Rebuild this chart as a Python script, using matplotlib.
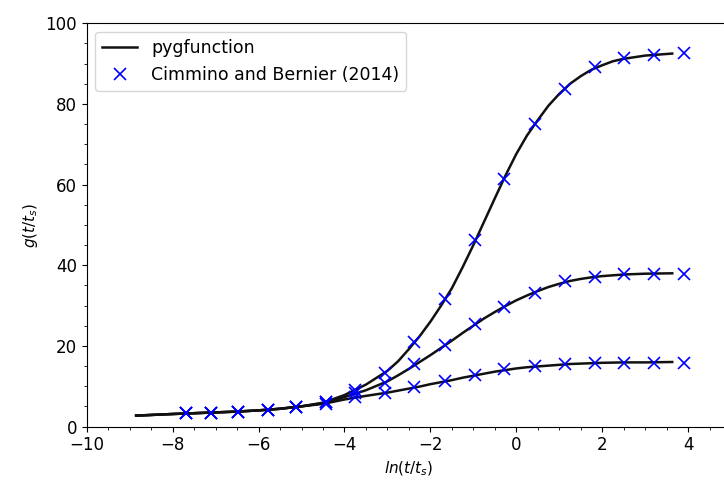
import matplotlib
matplotlib.use("Agg")
import matplotlib.pyplot as plt
from matplotlib.ticker import AutoMinorLocator

# pygfunction curves
lntts_line = [-8.85, -8.0, -7.5, -7.0, -6.5, -6.0, -5.5, -5.0, -4.5, -4.0, -3.5,
              -3.0, -2.75, -2.5, -2.25, -2.0, -1.75, -1.5, -1.25, -1.0, -0.75,
              -0.5, -0.25, 0.0, 0.25, 0.5, 0.75, 1.0, 1.25, 1.5, 1.75, 2.0, 2.25,
              2.5, 3.0, 3.63]
g_line_10x10 = [2.7, 3.1, 3.3, 3.5, 3.7, 4.0, 4.4, 5.0, 5.9, 7.8, 10.4,
                13.8, 16.2, 19.2, 22.4, 26.0, 30.0, 34.3, 39.5, 45.0, 50.8,
                56.6, 62.3, 67.6, 72.2, 76.0, 79.6, 82.5, 85.0, 86.9, 88.5, 89.6, 90.6,
                91.2, 92.0, 92.5]
g_line_6x4 = [2.7, 3.1, 3.3, 3.5, 3.7, 4.0, 4.4, 5.0, 5.8, 7.3, 9.0,
              11.2, 12.7, 14.3, 16.0, 17.7, 19.5, 21.3, 23.2, 25.0, 26.8,
              28.4, 29.9, 31.3, 32.5, 33.6, 34.6, 35.4, 36.1, 36.6, 37.0, 37.3, 37.5,
              37.7, 37.9, 38.0]
g_line_3x2 = [2.7, 3.1, 3.3, 3.5, 3.7, 4.0, 4.4, 5.0, 5.6, 6.7, 7.6,
              8.4, 8.9, 9.4, 9.9, 10.5, 11.0, 11.5, 12.1, 12.6, 13.1,
              13.6, 14.0, 14.4, 14.7, 14.9, 15.1, 15.3, 15.5, 15.6, 15.7, 15.8, 15.85,
              15.9, 15.9, 16.0]

# Cimmino and Bernier (2014) reference points
lntts_ref = [-7.69, -7.11, -6.48, -5.78, -5.12, -4.42, -3.76, -3.06, -2.37,
             -1.65, -0.95, -0.29, 0.43, 1.14, 1.83, 2.50, 3.20, 3.91]
g_ref_10x10 = [3.3, 3.4, 3.7, 4.1, 4.9, 6.2, 9.0, 13.3, 21.0,
               31.6, 46.2, 61.3, 75.1, 83.8, 89.1, 91.4, 92.2, 92.6]
g_ref_6x4 = [3.3, 3.4, 3.7, 4.1, 4.9, 6.0, 8.4, 10.8, 15.5,
             20.2, 25.4, 29.7, 33.2, 36.0, 37.0, 37.9, 37.9, 37.8]
g_ref_3x2 = [3.3, 3.4, 3.7, 4.1, 4.9, 5.6, 7.2, 8.3, 9.8,
             11.2, 12.8, 14.2, 15.0, 15.4, 15.8, 15.8, 15.8, 15.8]

plt.rcParams['font.size'] = 12

fig = plt.figure(figsize=(7.24, 4.84), dpi=100)
ax = fig.add_axes([0.1198, 0.1188, 0.890, 0.833])

line_sets = [g_line_3x2, g_line_6x4, g_line_10x10]
ref_sets = [g_ref_3x2, g_ref_6x4, g_ref_10x10]
for i in range(3):
    ax.plot(lntts_line, line_sets[i], '-', color='#111111', lw=1.8,
            label='pygfunction' if i == 0 else None)
for i in range(3):
    ax.plot(lntts_ref, ref_sets[i], 'bx', ms=8, mew=1.2,
            label='Cimmino and Bernier (2014)' if i == 0 else None)

ax.set_xlim(-10, 5)
ax.set_ylim(0, 100)
ax.xaxis.set_minor_locator(AutoMinorLocator())
ax.yaxis.set_minor_locator(AutoMinorLocator())
ax.set_xlabel(r'$ln(t/t_s)$', fontsize=11)
ax.set_ylabel(r'$g(t/t_s)$', fontsize=11)
ax.legend(loc='upper left', fontsize=12.5)

fig.savefig('out.png', dpi=100)
